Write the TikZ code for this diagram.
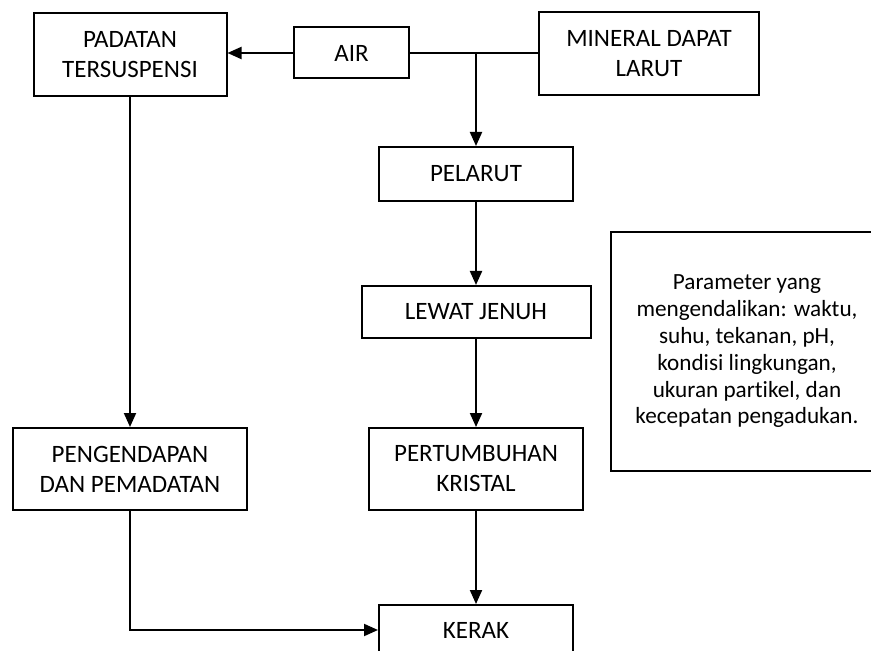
\documentclass[tikz,border=0pt]{standalone}
\usepackage{fontspec}
\setmainfont[Ligatures=NoCommon]{Carlito}
\usetikzlibrary{arrows.meta,positioning}

\begin{document}
\begin{tikzpicture}[x=0.5pt,y=-0.5pt,
  box/.style={rectangle,draw,line width=1pt,align=center,font=\fontsize{12.5}{15}\selectfont,inner sep=2pt},
  note/.style={rectangle,draw,line width=1pt,align=center,font=\fontsize{11.6}{13.4}\selectfont,inner sep=2pt},
  flow/.style={line width=1pt,-{Triangle[length=7pt,width=6pt]}}]
\clip (0,0) rectangle (871,651);

% top row
\node[box,minimum width=96.5pt,minimum height=41.5pt] (padatan) at (130,55) {PADATAN\\TERSUSPENSI};
\node[box,minimum width=57.5pt,minimum height=25.5pt] (air) at (351.5,53) {AIR};
\node[box,minimum width=110pt,minimum height=41.5pt] (mineral) at (649,54) {MINERAL DAPAT\\LARUT};

% middle column
\node[box,minimum width=97pt,minimum height=27pt] (pelarut) at (476,174) {PELARUT};
\node[box,minimum width=114.5pt,minimum height=26pt] (lewat) at (476,312) {LEWAT JENUH};
\node[box,minimum width=107pt,minimum height=41pt] (tumbuh) at (476,469) {PERTUMBUHAN\\KRISTAL};
\node[box,minimum width=97pt,minimum height=25pt] (kerak) at (476,630) {KERAK};

% left column
\node[box,minimum width=117pt,minimum height=41pt] (endap) at (130,469) {PENGENDAPAN\\DAN PEMADATAN};

% parameter box
\node[note,minimum width=136pt,minimum height=119.5pt] (param) at (747,351.5) {%
  Parameter yang\\mengendalikan: waktu,\\suhu, tekanan, pH,\\kondisi lingkungan,\\ukuran partikel, dan\\kecepatan pengadukan.};

\coordinate (split) at (air.east -| pelarut.north);
\draw[flow] (air.west) -- (air.west -| padatan.east);
\draw[line width=1pt] (air.east) -- (air.east -| mineral.west);
\draw[flow] (split) -- (pelarut.north);
\draw[flow] (pelarut) -- (lewat);
\draw[flow] (lewat) -- (tumbuh);
\draw[flow] (tumbuh) -- (kerak);
\draw[flow] (padatan) -- (endap);
\draw[flow] (endap.south) |- (kerak.west);
\end{tikzpicture}
\end{document}
